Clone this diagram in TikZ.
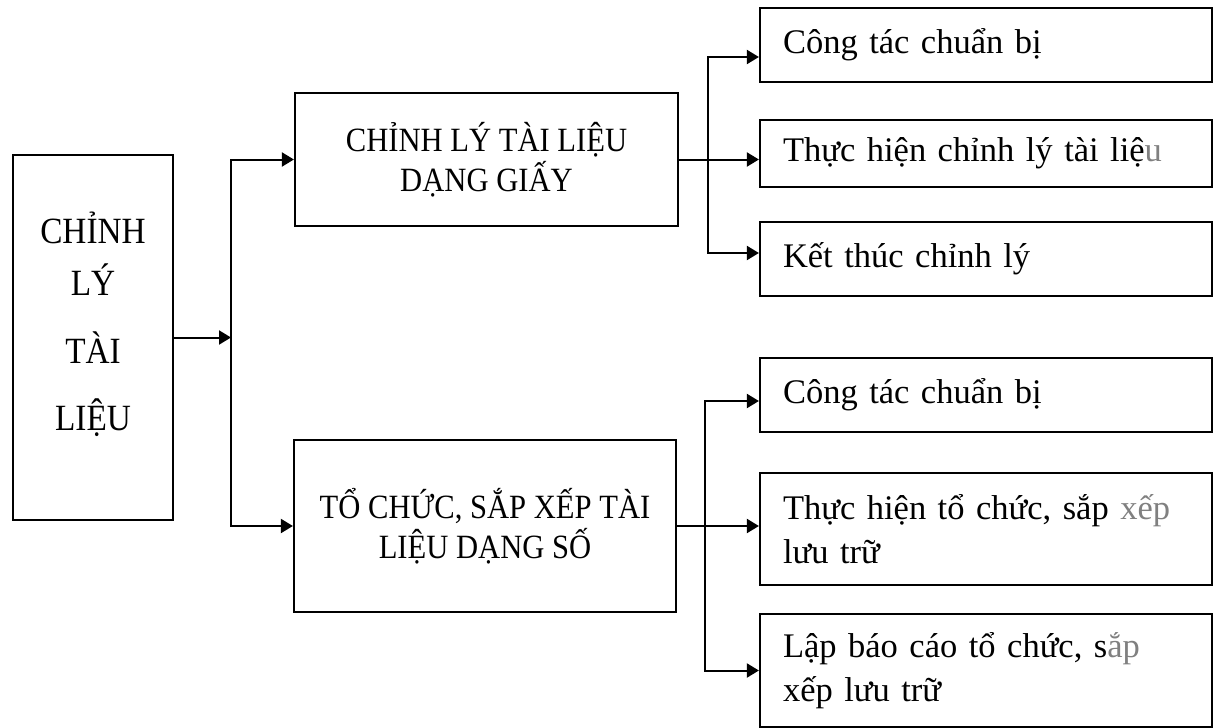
\documentclass[tikz,border=0pt]{standalone}
\usepackage{fontspec}
\setmainfont{Liberation Serif}
\newfontfamily\condfont[FakeStretch=0.9]{Liberation Serif}
\usetikzlibrary{arrows.meta}
\begin{document}
\begin{tikzpicture}[x=1pt,y=-1pt,
  box/.style={draw=black, line width=2.2pt, inner sep=0pt},
  arr/.style={line width=2pt, -{Triangle[length=12pt,width=14pt]}},
  ln/.style={line width=2pt, line cap=rect},
  midtxt/.style={font=\condfont\fontsize{34}{40}\selectfont, align=center},
  lefttxt/.style={font=\condfont\fontsize{37}{40}\selectfont, align=center},
  rbox/.style={box, minimum width=452pt, text width=406pt, inner xsep=23pt, align=left, font=\fontsize{34.5}{44}\selectfont},
]
\useasboundingbox (0,0) rectangle (1218,728);

% left box
\node[box, minimum width=160pt, minimum height=365pt] (L) at (93,337.5) {};
\node[lefttxt] (Lt) at (93,324) {CHỈNH\\[12pt]LÝ\\[28pt]TÀI\\[27pt]LIỆU};

% middle boxes
\node[box, minimum width=383pt, minimum height=133pt, midtxt] (M1) at (486.5,159.5) {CHỈNH LÝ TÀI LIỆU\\DẠNG GIẤY};
\node[box, minimum width=382pt, minimum height=172pt, midtxt] (M2) at (485,526) {TỔ CHỨC, SẮP XẾP TÀI\\LIỆU DẠNG SỐ};

% right boxes
\node[rbox, minimum height=74pt] (B1) at (986,45) {Công tác chuẩn bị};
\node[rbox, minimum height=67pt] (B2) at (986,153.5) {Thực hiện chỉnh lý tài liệ{\color{gray}u}};
\node[rbox, minimum height=74pt] (B3) at (986,259) {Kết thúc chỉnh lý};
\node[rbox, minimum height=74pt] (B4) at (986,395) {Công tác chuẩn bị};
\node[rbox, minimum height=112pt] (B5) at (986,529) {Thực hiện tổ chức, sắp {\color{gray}xếp}\\lưu trữ};
\node[rbox, minimum height=113pt] (B6) at (986,670.5) {Lập báo cáo tổ chức, s{\color{gray}ắp}\\xếp lưu trữ};

% junction columns
\coordinate (J) at (231,0);
\coordinate (K1) at (708,0);
\coordinate (K2) at (705,0);

% left -> middle
\draw[arr] (L.east) -- (L.east -| J);
\draw[ln] (J |- M1.west) -- (J |- M2.west);
\draw[arr] (J |- M1.west) -- (M1.west);
\draw[arr] (J |- M2.west) -- (M2.west);

% upper branch
\coordinate (a1) at ([yshift=-12pt]B1.west);
\coordinate (a3) at ([yshift=6pt]B3.west);
\draw[arr] (M1.east) -- (M1.east -| B2.west);
\draw[ln] (K1 |- a1) -- (K1 |- a3);
\draw[arr] (K1 |- a1) -- (a1);
\draw[arr] (K1 |- a3) -- (a3);

% lower branch
\coordinate (a4) at ([yshift=-6pt]B4.west);
\draw[arr] (M2.east) -- (M2.east -| B5.west);
\draw[ln] (K2 |- a4) -- (K2 |- B6.west);
\draw[arr] (K2 |- a4) -- (a4);
\draw[arr] (K2 |- B6.west) -- (B6.west);
\end{tikzpicture}
\end{document}
